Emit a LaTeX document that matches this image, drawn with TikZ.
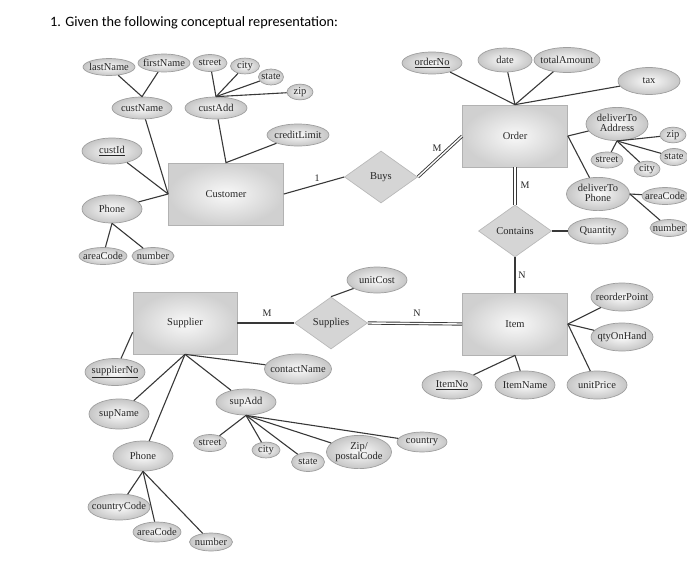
\documentclass[tikz,border=0pt]{standalone}
\usepackage{fontspec}
\setmainfont{Liberation Serif}
\newfontfamily\titlefont{Carlito}
\usetikzlibrary{shapes.geometric}
\newcommand{\lbl}[1]{\makebox[0pt]{#1}}
\tikzset{
  attr/.style 2 args={ellipse, draw=gray!75, line width=0.7pt, shade, inner color=gray!3, outer color=gray!45,
    inner sep=1pt, minimum width=#1pt, minimum height=#2pt, text=black!85, font=\fontsize{10.5}{11.5}\selectfont},
  entity/.style={rectangle, draw=gray!60, line width=0.7pt, shade, inner color=gray!5, outer color=gray!37,
    minimum width=105pt, minimum height=62pt, text=black!85, font=\fontsize{10.5}{12}\selectfont},
  rel/.style={diamond, draw=gray!55, line width=0.7pt, fill=gray!33, inner sep=1pt,
    minimum width=73pt, minimum height=52pt, text=black!85, font=\fontsize{10.5}{12}\selectfont},
  link/.style={draw=black!78, line width=1.1pt},
  dbl/.style={draw=black!78, line width=0.9pt, double=white, double distance=1.4pt},
  card/.style={font=\fontsize{10}{11}\selectfont, text=black!85, inner sep=0pt}
}
\begin{document}
\begin{tikzpicture}[x=1pt,y=1pt,yscale=-1]
\useasboundingbox (0,0) rectangle (687,560);
% Title
\node (title) [anchor=base west, inner sep=0pt, font=\titlefont\fontsize{14.3}{16}\selectfont] at (50,26) {1. Given the following conceptual representation:};

% Entities
\node (customer) [entity, minimum width=115pt] at (226,194) {\lbl{Customer}};
\node (order) [entity] at (515,136) {\lbl{Order}};
\node (item) [entity] at (515,324) {\lbl{Item}};
\node (supplier) [entity, minimum width=104pt] at (185,323) {\lbl{Supplier}};

% Relationships
\node (buys) [rel] at (381,177) {\lbl{Buys}};
\node (contains) [rel] at (515,231) {\lbl{Contains}};
\node (supplies) [rel] at (331,323) {\lbl{Supplies}};

% Customer attributes
\node (lastName) [attr={52}{17}] at (109,67) {\lbl{lastName}};
\node (firstName) [attr={52}{18}] at (164,63) {\lbl{firstName}};
\node (cStreet) [attr={34}{17}] at (210,63) {\lbl{street}};
\node (cCity) [attr={29}{15}] at (245,66) {\lbl{city}};
\node (cState) [attr={25}{16}] at (271,77) {\lbl{state}};
\node (cZip) [attr={26}{15}] at (300,92) {\lbl{zip}};
\node (custName) [attr={60}{22}] at (142,108) {\lbl{custName}};
\node (custAdd) [attr={62}{22}] at (216,108) {\lbl{custAdd}};
\node (creditLimit) [attr={62}{22}] at (298,135) {\lbl{creditLimit}};
\node (custId) [attr={60}{26}] at (112,151) {\lbl{\underline{custId}}};
\node (cPhone) [attr={60}{28}] at (112,209) {\lbl{Phone}};
\node (cAreaCode) [attr={48}{17}] at (103,256) {\lbl{areaCode}};
\node (cNumber) [attr={42}{17}] at (153,256) {\lbl{number}};

% Order attributes
\node (orderNo) [attr={60}{22}] at (432,63) {\lbl{\underline{orderNo}}};
\node (date) [attr={54}{24}] at (505,60) {\lbl{date}};
\node (totalAmount) [attr={66}{25}] at (567,60) {\lbl{totalAmount}};
\node (tax) [attr={62}{27}] at (649,81) {\lbl{tax}};
\node (delAddr) [attr={62}{32}] at (617,124) {\lbl{\begin{tabular}{@{}c@{}}deliverTo\\[-1.5pt]Address\end{tabular}}};
\node (dZip) [attr={26}{15}] at (673,135) {\lbl{zip}};
\node (dState) [attr={28}{17}] at (674,157) {\lbl{state}};
\node (dCity) [attr={26}{15}] at (647,169) {\lbl{city}};
\node (dStreet) [attr={32}{16}] at (607,160) {\lbl{street}};
\node (delPhone) [attr={63}{32}] at (598,194) {\lbl{\begin{tabular}{@{}c@{}}deliverTo\\[-1.5pt]Phone\end{tabular}}};
\node (dAreaCode) [attr={46}{17}] at (665,196) {\lbl{areaCode}};
\node (dNumber) [attr={38}{17}] at (669,228) {\lbl{number}};
\node (quantity) [attr={60}{26}] at (598,231) {\lbl{Quantity}};

% Item attributes
\node (reorderPoint) [attr={62}{28}] at (622,297) {\lbl{reorderPoint}};
\node (qtyOnHand) [attr={62}{28}] at (622,337) {\lbl{qtyOnHand}};
\node (unitPrice) [attr={60}{28}] at (597,385) {\lbl{unitPrice}};
\node (itemNo) [attr={60}{28}] at (452,385) {\lbl{\underline{ItemNo}}};
\node (itemName) [attr={60}{28}] at (525,385) {\lbl{ItemName}};
\node (unitCost) [attr={60}{26}] at (377,280) {\lbl{unitCost}};

% Supplier attributes
\node (supplierNo) [attr={60}{27}] at (115,372) {\lbl{\underline{supplierNo}}};
\node (contactName) [attr={67}{30}] at (298,369) {\lbl{contactName}};
\node (supAdd) [attr={60}{26}] at (246,402) {\lbl{supAdd}};
\node (supName) [attr={60}{30}] at (119,414) {\lbl{supName}};
\node (sPhone) [attr={60}{30}] at (143,456) {\lbl{Phone}};
\node (countryCode) [attr={62}{26}] at (119,507) {\lbl{countryCode}};
\node (sAreaCode) [attr={48}{20}] at (157,532) {\lbl{areaCode}};
\node (sNumber) [attr={43}{18}] at (211,542) {\lbl{number}};
\node (sStreet) [attr={33}{17}] at (210,443) {\lbl{street}};
\node (sCity) [attr={28}{15}] at (266,450) {\lbl{city}};
\node (sState) [attr={33}{19}] at (308,462) {\lbl{state}};
\node (sZip) [attr={65}{31}] at (359,452) {\lbl{\begin{tabular}{@{}c@{}}Zip/\\[-1.5pt]postalCode\end{tabular}}};
\node (sCountry) [attr={50}{20}] at (422,442) {\lbl{country}};

% Cardinalities
\node (c1) [card] at (317,178) {1};
\node (cM1) [card] at (437,148) {M};
\node (cM2) [card] at (525,185) {M};
\node (cN1) [card] at (522,275) {N};
\node (cM3) [card] at (267,313) {M};
\node (cN2) [card] at (417,313) {N};

% Connectors
\draw [link] (lastName) -- (custName.north) -- (firstName);
\foreach \a in {cStreet,cCity,cState,cZip} \draw [link] (custAdd.north) -- (\a);
\draw [link] (custName) -- (customer.west);
\draw [link] (custId) -- (customer.west);
\draw [link] (cPhone) -- (customer.west);
\draw [link] (cPhone.south) -- (cAreaCode);
\draw [link] (cPhone.south) -- (cNumber);
\draw [link] (custAdd) -- (customer.north) -- (creditLimit);
\draw [link] (customer.east) -- (buys.west);
\draw [dbl] (buys.east) -- (order.west);
\foreach \a in {orderNo,date,totalAmount,tax} \draw [link] (order.north) -- (\a);
\draw [link] (order.east) -- (delAddr);
\draw [link] (order.east) -- (delPhone);
\foreach \a in {dZip,dState,dCity,dStreet} \draw [link] (delAddr.south) -- (\a);
\draw [link] (delPhone.east) -- (dAreaCode);
\draw [link] (delPhone.east) -- (dNumber);
\draw [dbl] (order.south) -- (contains.north);
\draw [link] (contains.east) -- (quantity);
\draw [link] (contains.south) -- (item.north);
\foreach \a in {reorderPoint,qtyOnHand,unitPrice} \draw [link] (item.east) -- (\a);
\foreach \a in {itemNo,itemName} \draw [link] (item.south) -- (\a);
\draw [link] (supplier.east) -- (supplies.west);
\draw [dbl] (supplies.east) -- (item.west);
\draw [link] (supplies.north) -- (unitCost);
\draw [link] (supplier.190) -- (supplierNo);
\foreach \a in {supName,sPhone,supAdd,contactName} \draw [link] (supplier.south) -- (\a);
\foreach \a in {countryCode,sAreaCode,sNumber} \draw [link] (sPhone.south) -- (\a);
\foreach \a in {sStreet,sCity,sState,sZip,sCountry} \draw [link] (supAdd.south) -- (\a);
\end{tikzpicture}
\end{document}
